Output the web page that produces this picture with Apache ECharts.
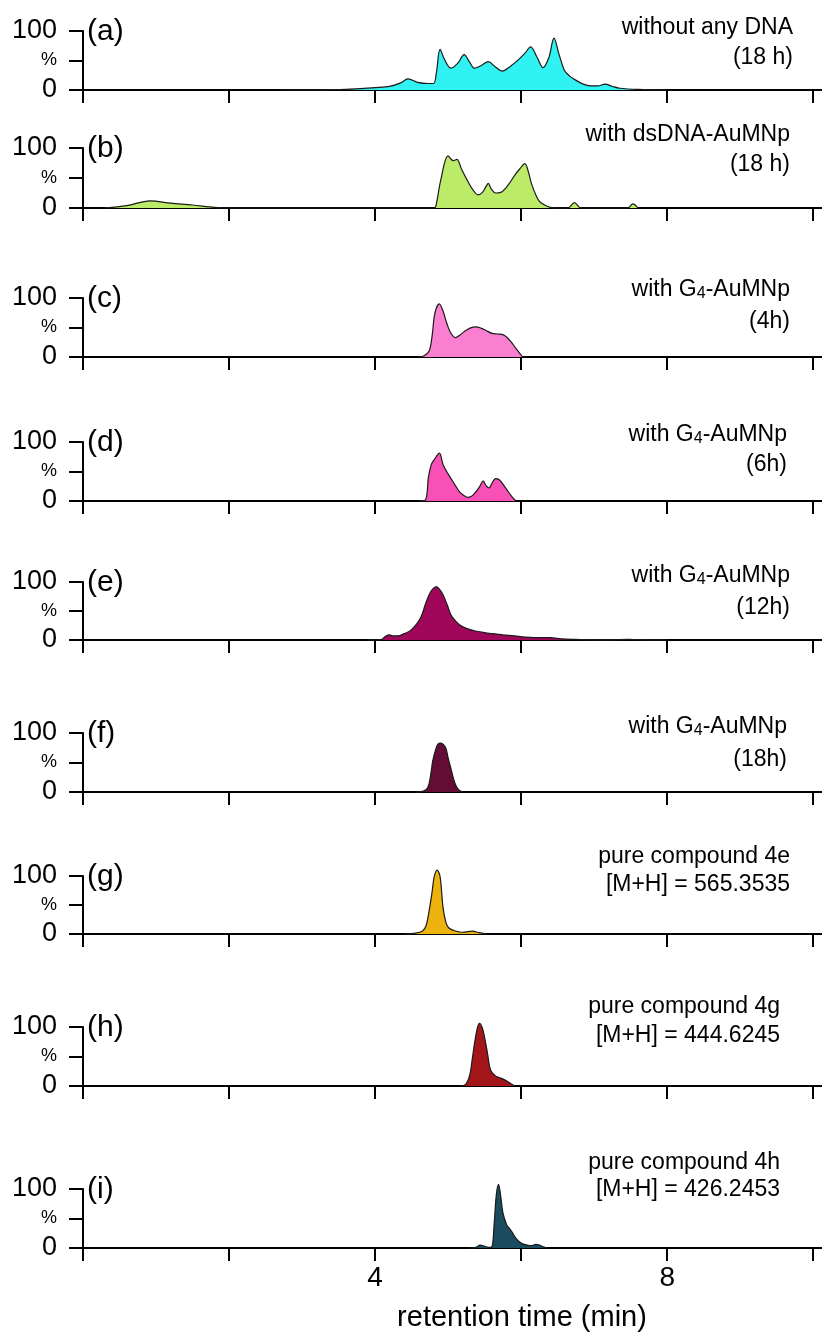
<!DOCTYPE html>
<html>
<head>
<meta charset="utf-8">
<script src="https://cdn.jsdelivr.net/npm/echarts@6/dist/echarts.min.js"></script>
<style>
html,body{margin:0;padding:0;background:#fff;}
#chart{width:822px;height:1339px;}
</style>
</head>
<body>
<div id="chart"></div>
<script>
// ---- data ----
const xTickValues = [0, 2, 4, 6, 8, 10];
const xLabelValues = [4, 8];
const yTickValues = [0, 50, 100];
const xAxisTitle = 'retention time (min)';

const panelLetters = ['(a)', '(b)', '(c)', '(d)', '(e)', '(f)', '(g)', '(h)', '(i)'];
const noteLine1 = ['without any DNA', 'with dsDNA-AuMNp', 'with G{s|4}-AuMNp', 'with G{s|4}-AuMNp',
  'with G{s|4}-AuMNp', 'with G{s|4}-AuMNp', 'pure compound 4e', 'pure compound 4g', 'pure compound 4h'];
const noteLine2 = ['(18 h)', '(18 h)', '(4h)', '(6h)', '(12h)', '(18h)',
  '[M+H] = 565.3535', '[M+H] = 444.6245', '[M+H] = 426.2453'];

const aTime = [2.7, 3.6, 4.0, 4.2, 4.35, 4.45, 4.58, 4.72, 4.8, 4.84, 4.89, 4.95, 5.04, 5.13, 5.22, 5.29, 5.36, 5.46, 5.55, 5.64, 5.74, 5.85, 5.96, 6.05, 6.13, 6.22, 6.30, 6.38, 6.45, 6.52, 6.59, 6.66, 6.73, 6.85, 6.95, 7.05, 7.15, 7.25, 7.35, 7.6, 8.0];
const aPct  = [0, 1, 4, 6, 12, 19, 13, 11, 11, 30, 69, 52, 37, 45, 60, 48, 37, 42, 48, 40, 32, 40, 51, 62, 73, 55, 38, 55, 88, 60, 34, 24, 18, 10, 7, 7, 10, 6, 3, 1, 0];

const bTime = [0.3, 0.6, 0.92, 1.2, 1.5, 1.8, 2.0, 4.8, 4.83, 4.9, 5.0, 5.07, 5.12, 5.18, 5.25, 5.33, 5.41, 5.47, 5.52, 5.55, 5.59, 5.65, 5.72, 5.82, 5.92, 5.98, 6.05, 6.10, 6.14, 6.2, 6.25, 6.32, 6.4, 6.5, 6.64, 6.73, 6.82, 7.46, 7.53, 7.6];
const bPct  = [0, 4, 12, 8, 5, 1, 0, 0, 2, 47, 87, 79, 81, 66, 49, 32, 22, 26, 36, 41, 32, 25, 26, 38, 56, 65, 74, 60, 41, 22, 11, 5, 1, 0, 0, 9, 0, 0, 7, 0];

const cTime = [4.6, 4.67, 4.74, 4.78, 4.82, 4.88, 4.93, 4.98, 5.03, 5.1, 5.16, 5.22, 5.3, 5.38, 5.45, 5.52, 5.6, 5.68, 5.75, 5.8, 5.86, 5.92, 5.97, 6.02];
const cPct  = [0, 2, 10, 35, 75, 90, 78, 58, 42, 33, 37, 43, 49, 51, 49, 45, 40, 39, 38, 34, 26, 16, 8, 0];

const dTime = [4.6, 4.69, 4.73, 4.77, 4.81, 4.88, 4.93, 4.98, 5.04, 5.1, 5.16, 5.22, 5.27, 5.32, 5.37, 5.43, 5.48, 5.52, 5.56, 5.6, 5.65, 5.7, 5.76, 5.81, 5.87, 5.93];
const dPct  = [0, 2, 40, 62, 70, 81, 62, 50, 38, 26, 15, 9, 6, 8, 14, 24, 34, 26, 22, 30, 38, 36, 27, 18, 8, 0];

const eTime = [3.9, 4.08, 4.14, 4.19, 4.25, 4.31, 4.4, 4.49, 4.57, 4.63, 4.69, 4.74, 4.79, 4.84, 4.89, 4.93, 4.99, 5.04, 5.1, 5.16, 5.25, 5.36, 5.48, 5.59, 5.75, 5.91, 6.05, 6.18, 6.3, 6.4, 6.55, 6.73, 6.9, 7.2, 7.47, 7.6, 8.0];
const ePct  = [0, 0.5, 6, 9, 7, 7, 11, 17, 28, 40, 62, 78, 88, 92, 86, 78, 60, 43, 33, 26, 20, 16, 13, 11, 9, 7, 5, 4, 4, 4, 2, 1, 0.5, 0.3, 1.2, 0.5, 0];

const fTime = [4.55, 4.65, 4.72, 4.76, 4.79, 4.83, 4.86, 4.9, 4.94, 4.97, 5.0, 5.04, 5.08, 5.11, 5.15, 5.2];
const fPct  = [0, 1, 7, 28, 53, 72, 81, 83, 80, 74, 58, 39, 20, 10, 3, 0];

const gTime = [4.4, 4.53, 4.65, 4.7, 4.74, 4.78, 4.81, 4.85, 4.89, 4.93, 4.97, 5.0, 5.04, 5.08, 5.14, 5.2, 5.27, 5.34, 5.4, 5.45, 5.52];
const gPct  = [0, 1, 5, 15, 40, 72, 99, 110, 99, 46, 20, 12, 8, 6, 4, 3, 4, 5, 3, 2, 0];

const hTime = [5.15, 5.22, 5.29, 5.33, 5.36, 5.4, 5.43, 5.47, 5.5, 5.54, 5.57, 5.6, 5.64, 5.68, 5.73, 5.78, 5.82, 5.87, 5.92];
const hPct  = [0, 1, 16, 45, 71, 98, 106, 98, 82, 55, 32, 23, 18, 15, 13, 10, 7, 3, 0];

const iTime = [5.3, 5.38, 5.44, 5.5, 5.56, 5.6, 5.63, 5.66, 5.69, 5.72, 5.75, 5.8, 5.84, 5.88, 5.92, 5.97, 6.02, 6.08, 6.14, 6.2, 6.25, 6.3, 6.36];
const iPct  = [0, 1, 5, 3, 1, 2, 40, 90, 108, 88, 60, 40, 33, 26, 18, 11, 7, 5, 4, 6, 5, 2, 0];

// ---- styling / layout ----
const times = [aTime, bTime, cTime, dTime, eTime, fTime, gTime, hTime, iTime];
const pcts = [aPct, bPct, cPct, dPct, ePct, fPct, gPct, hPct, iPct];
const fills = ['#30F2F2', '#BCEB6A', '#FA7FD0', '#F850B4', '#A0075A', '#640C36', '#EEB20E', '#A31519', '#1B4B5E'];
// top (100%) and baseline (0%) pixel rows of each panel
const tops = [31, 148, 298, 442, 582, 733, 876, 1027, 1189];
const bases = [90, 208, 357, 501, 640, 792, 934, 1086, 1248];
const note1Y = [28, 135, 290, 435, 576, 727, 857, 1007, 1163];
const note2Y = [58, 165, 322, 465, 608, 760, 885, 1036, 1190];
const noteX = [793, 790, 790, 787, 790, 787, 790, 780, 780];

const FONT = '"Liberation Sans", Arial, Helvetica, sans-serif';
const X0 = 83, XMAX = 10.12;

const grid = [], xAxis = [], yAxis = [], series = [], graphic = [];
for (let k = 0; k < 9; k++) {
  grid.push({ left: X0, right: 0, top: tops[k], height: bases[k] - tops[k], outerBoundsMode: 'none', containLabel: false });
  const last = k === 8;
  xAxis.push({
    gridIndex: k, type: 'value', min: 0, max: XMAX,
    axisLine: { show: true, onZero: true, lineStyle: { color: '#000', width: 2 } },
    axisTick: { show: true, inside: false, length: 13, customValues: xTickValues, lineStyle: { color: '#000', width: 2 } },
    axisLabel: last ? { show: true, customValues: xLabelValues, fontSize: 28, color: '#000', fontFamily: FONT, margin: 16 } : { show: false },
    splitLine: { show: false }
  });
  yAxis.push({
    gridIndex: k, type: 'value', min: 0, max: 100,
    axisLine: { show: true, lineStyle: { color: '#000', width: 2 } },
    axisTick: { show: true, inside: false, length: 14, customValues: yTickValues, lineStyle: { color: '#000', width: 2 } },
    axisLabel: {
      show: true, customValues: yTickValues, fontSize: 27, color: '#000', fontFamily: FONT, margin: 26,
      formatter: v => v === 50 ? '{p|%}' : String(v),
      rich: { p: { fontSize: 18, fontFamily: FONT, color: '#000' } }
    },
    splitLine: { show: false }
  });
  series.push({
    type: 'line', xAxisIndex: k, yAxisIndex: k,
    data: times[k].map((t, j) => [t, pcts[k][j]]),
    smooth: 0.35, symbol: 'none', clip: false,
    lineStyle: { color: '#1a1a1a', width: 1.2 },
    areaStyle: { color: fills[k], opacity: 1 },
    z: 1
  });
  graphic.push({
    type: 'text', x: 87, y: tops[k] + 1,
    style: { text: panelLetters[k], font: '30px ' + FONT, fill: '#000', verticalAlign: 'middle' }
  });
  graphic.push({
    type: 'text', x: noteX[k], y: note1Y[k],
    style: { text: noteLine1[k], font: '23px ' + FONT, fill: '#000', align: 'right', verticalAlign: 'middle',
      rich: { s: { fontSize: 16, fontFamily: FONT, fill: '#000', verticalAlign: 'bottom' } } }
  });
  graphic.push({
    type: 'text', x: noteX[k], y: note2Y[k],
    style: { text: noteLine2[k], font: '23px ' + FONT, fill: '#000', align: 'right', verticalAlign: 'middle' }
  });
}
graphic.push({
  type: 'text', x: 522, y: 1318,
  style: { text: xAxisTitle, font: '29px ' + FONT, fill: '#000', align: 'center', verticalAlign: 'middle' }
});

const chart = echarts.init(document.getElementById('chart'), null, { renderer: 'canvas' });
chart.setOption({
  animation: false,
  backgroundColor: '#fff',
  grid, xAxis, yAxis, series, graphic
});
</script>
</body>
</html>
